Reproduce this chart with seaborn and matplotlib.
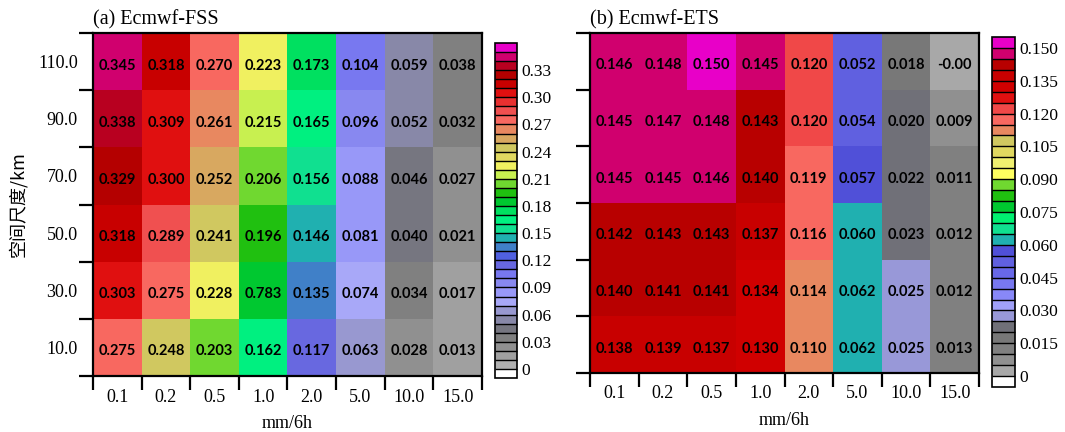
import numpy as np
import matplotlib
matplotlib.use("Agg")
import matplotlib.pyplot as plt
from matplotlib.colors import ListedColormap, BoundaryNorm
from matplotlib import font_manager
import seaborn as sns

# precipitation thresholds (x) and neighbourhood scales (y, top to bottom)
thresholds = ["0.1", "0.2", "0.5", "1.0", "2.0", "5.0", "10.0", "15.0"]
scales = ["110.0", "90.0", "70.0", "50.0", "30.0", "10.0"]

fss = np.array([
    [0.345, 0.318, 0.270, 0.223, 0.173, 0.104, 0.059, 0.038],
    [0.338, 0.309, 0.261, 0.215, 0.165, 0.096, 0.052, 0.032],
    [0.329, 0.300, 0.252, 0.206, 0.156, 0.088, 0.046, 0.027],
    [0.318, 0.289, 0.241, 0.196, 0.146, 0.081, 0.040, 0.021],
    [0.303, 0.275, 0.228, 0.183, 0.135, 0.074, 0.034, 0.017],
    [0.275, 0.248, 0.203, 0.162, 0.117, 0.063, 0.028, 0.013],
])
ets = np.array([
    [0.146, 0.148, 0.150, 0.145, 0.120, 0.052, 0.018, 0.000],
    [0.145, 0.147, 0.148, 0.143, 0.120, 0.054, 0.020, 0.009],
    [0.145, 0.145, 0.146, 0.140, 0.119, 0.057, 0.022, 0.011],
    [0.142, 0.143, 0.143, 0.137, 0.116, 0.060, 0.023, 0.012],
    [0.140, 0.141, 0.141, 0.134, 0.114, 0.062, 0.025, 0.012],
    [0.138, 0.139, 0.137, 0.130, 0.110, 0.062, 0.025, 0.013],
])
# labels as printed in the original figure
fss_fix = {(4, 3): "0.783"}
ets_fix = {(0, 7): "-0.00"}

# discrete palettes, bottom to top
fss_colors = ["#ffffff", "#b0b0b0", "#a0a0a0", "#909090", "#808080", "#767680",
              "#8888a8", "#9898d0", "#a8a8f8", "#9898f8", "#8888f0", "#7878f0",
              "#6868e0", "#5060e0", "#4080c8", "#20b0b0", "#10e090", "#00f080",
              "#00e060", "#00c830", "#20c010", "#70d830", "#c8f050", "#f0f060",
              "#e0d860", "#d0c860", "#d8a860", "#e88860", "#f86860", "#f05050",
              "#e83030", "#e01010", "#c80000", "#b40000", "#b80020", "#d0006e",
              "#e800c8"]
ets_colors = ["#ffffff", "#a8a8a8", "#909090", "#808080", "#787878", "#707078",
              "#9898d8", "#a0a0f8", "#8888f8", "#7878f0", "#6868e8", "#6060e0",
              "#5050d8", "#20b0b0", "#10e090", "#00f070", "#00c830", "#20c010",
              "#70d830", "#ffff60", "#f0f070", "#e0d860", "#d0c860", "#e88860",
              "#f86860", "#f04848", "#e01010", "#d00000", "#c80000", "#b80000",
              "#d0006e", "#e800c8"]
fss_bounds = np.round(np.arange(-0.01, 0.365, 0.01), 3)
ets_bounds = np.round(np.arange(-0.005, 0.1551, 0.005), 3)
fss_ticks = np.round(np.arange(0, 0.331, 0.03), 2)
ets_ticks = np.round(np.arange(0, 0.1501, 0.015), 3)

plt.rcParams["font.family"] = ["Liberation Serif", "DejaVu Serif"]
annot_font = font_manager.FontProperties(family="Lato", weight="bold", size=10.5)

fig = plt.figure(figsize=(10.65, 4.32), dpi=100)
ax1 = fig.add_axes([0.0873, 0.1296, 0.3653, 0.794])
cax1 = fig.add_axes([0.4648, 0.125, 0.0207, 0.7755])
ax2 = fig.add_axes([0.554, 0.1366, 0.3653, 0.787])
cax2 = fig.add_axes([0.9315, 0.1042, 0.0216, 0.810])


def panel(ax, cax, data, fix, colors, bounds, ticks, fmt, title, ylabels):
    text = [[f"{v:.3f}" for v in row] for row in data]
    for (i, j), s in fix.items():
        text[i][j] = s
    cmap = ListedColormap(colors)
    norm = BoundaryNorm(bounds, cmap.N)
    sns.heatmap(data, ax=ax, cmap=cmap, norm=norm, annot=np.array(text), fmt="",
                annot_kws={"color": "black", "fontproperties": annot_font},
                cbar_ax=cax, cbar_kws={"drawedges": True, "ticks": ticks})
    for t in ax.texts:
        x, y = t.get_position()
        t.set_position((x, y + 0.07))

    nx, ny = data.shape[1], data.shape[0]
    ax.set_xticks(np.arange(nx + 1))
    ax.set_xticklabels([])
    ax.set_yticks(np.arange(ny + 1))
    ax.set_yticklabels([])
    ax.set_xticks(np.arange(nx) + 0.5, minor=True)
    ax.set_xticklabels(thresholds, minor=True, fontsize=13)
    ax.set_yticks(np.arange(ny) + 0.5, minor=True)
    ax.set_yticklabels(scales if ylabels else [], minor=True, fontsize=13, rotation=0)
    ax.tick_params(which="major", length=10, width=1.6, direction="out", color="black")
    ax.tick_params(which="minor", length=0, pad=9)
    ax.tick_params(axis="y", which="minor", pad=11)
    for s in ax.spines.values():
        s.set_visible(True)
        s.set_linewidth(1.6)
    ax.set_xlabel("mm/6h", fontsize=13, labelpad=7)
    ax.set_title(title, loc="left", fontsize=14.5, pad=6)

    cb = ax.collections[0].colorbar
    cb.outline.set_visible(True)
    cb.outline.set_linewidth(1.2)
    cb.dividers.set_color("black")
    cb.dividers.set_linewidth(1.0)
    cb.set_ticks(ticks)
    cb.set_ticklabels(["0"] + [fmt.format(v) for v in ticks[1:]])
    cax.minorticks_off()
    cax.tick_params(which="both", length=0, pad=3, labelsize=12.5)


panel(ax1, cax1, fss, fss_fix, fss_colors, fss_bounds, fss_ticks, "{:.2f}",
      "(a) Ecmwf-FSS", True)
panel(ax2, cax2, ets, ets_fix, ets_colors, ets_bounds, ets_ticks, "{:.3f}",
      "(b) Ecmwf-ETS", False)

ax1.set_ylabel("空间尺度/km", fontsize=13, family=["Noto Sans CJK SC", "DejaVu Sans"],
               labelpad=8)

fig.savefig("out.png", dpi=100)
